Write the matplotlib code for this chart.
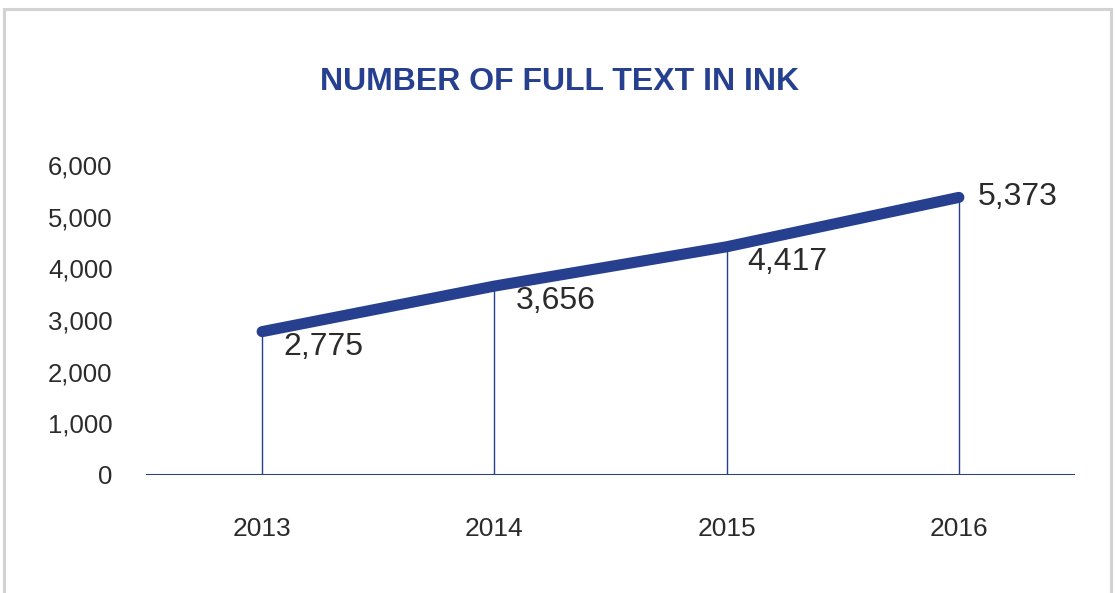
import matplotlib
matplotlib.use("Agg")
import matplotlib.pyplot as plt
from matplotlib.patches import Rectangle

years = ["2013", "2014", "2015", "2016"]
counts = [2775, 3656, 4417, 5373]
y_ticks = [0, 1000, 2000, 3000, 4000, 5000, 6000]

navy = "#26408f"
txt = "#2b2b2b"
plt.rcParams['font.family'] = ['Liberation Sans', 'DejaVu Sans']

fig = plt.figure(figsize=(11.16, 5.93), dpi=100)
# light gray frame around the chart (bottom runs off the image)
fig.patches.append(Rectangle((4/1116, -0.05), 1107/1116, 1 - 9/593 + 0.05,
                             transform=fig.transFigure, fill=False,
                             edgecolor="#d2d2d2", linewidth=2.2))

ax = fig.add_axes([146/1116, 1 - 475/593, 929/1116, 310/593])
x = list(range(len(years)))

ax.vlines(x, 0, counts, color=navy, linewidth=1.0, zorder=2)
ax.plot(x, counts, color=navy, linewidth=8, solid_capstyle="round", zorder=3)
ax.axhline(0, color=navy, linewidth=2.2, zorder=4)

for i, v in enumerate(counts):
    lab = f"{v:,}"
    if i == len(counts) - 1:
        ax.annotate(lab, (i, v), xytext=(19, 0), textcoords="offset pixels",
                    ha="left", va="center", fontsize=23, color=txt)
    else:
        ax.annotate(lab, (i, v), xytext=(21, -15), textcoords="offset pixels",
                    ha="left", va="center", fontsize=23, color=txt)

ax.set_xlim(-0.5, 3.5)
ax.set_ylim(0, 6000)
ax.set_xticks(x)
ax.set_xticklabels(years)
ax.set_yticks(y_ticks)
ax.set_yticklabels([f"{t:,}" for t in y_ticks])
ax.tick_params(axis="both", length=0, labelcolor=txt)
ax.tick_params(axis="x", pad=30, labelsize=19)
ax.tick_params(axis="y", pad=24, labelsize=18.5)
for s in ax.spines.values():
    s.set_visible(False)

fig.text(560/1116, 1 - 82/593, "NUMBER OF FULL TEXT IN INK", ha="center",
         va="center", fontsize=23, fontweight="bold", color=navy)

fig.savefig("out.png", dpi=100)
